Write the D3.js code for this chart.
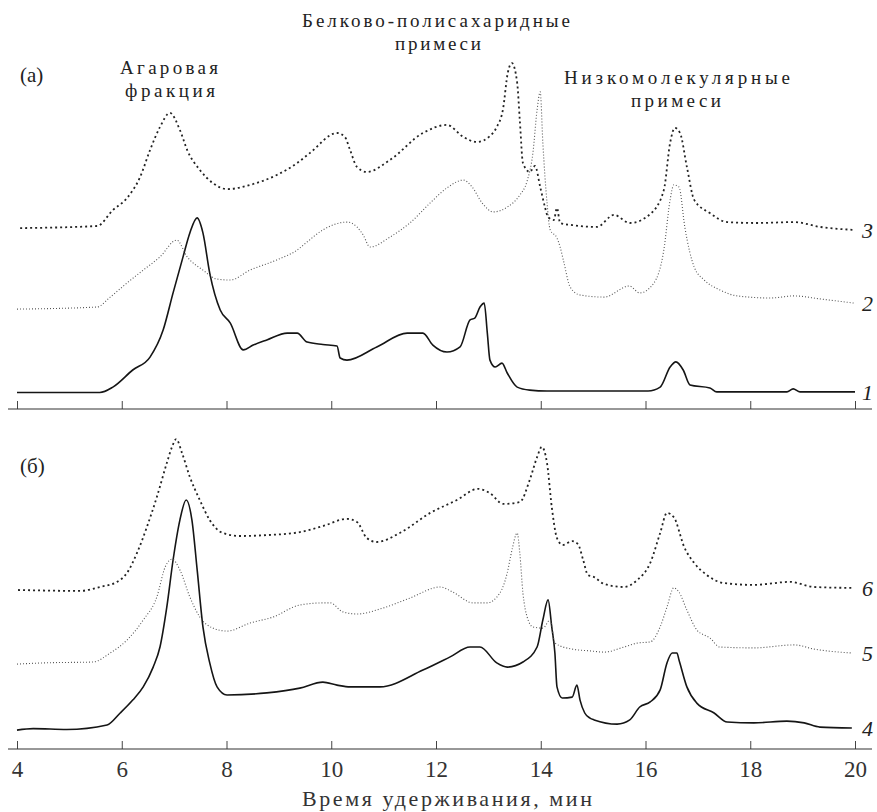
<!DOCTYPE html>
<html>
<head>
<meta charset="utf-8">
<script src="https://cdn.jsdelivr.net/npm/d3@7"></script>
<style>
  body { margin: 0; background: #fff; }
</style>
</head>
<body>
<div id="chart"></div>
<script>
// время удерживания (мин), сигнал в условных единицах
const curve1 = [[4.0,5.5],[5.58,5.5],[5.83,7.3],[6.21,13],[6.54,17.3],[6.79,26.3],[6.98,38.7],[7.17,50.7],[7.30,58.7],[7.44,63.7],[7.55,58.7],[7.68,45.3],[7.88,33],[8.07,28.7],[8.32,19.7],[8.51,21.3],[8.77,23],[9.16,25.3],[9.35,25.3],[9.54,22.3],[9.84,21.5],[10.11,21],[10.17,17],[10.30,16.3],[10.87,20.7],[11.45,25.3],[11.75,25.3],[11.94,21.3],[12.21,19],[12.46,20.7],[12.65,29.7],[12.74,30.3],[12.84,34],[12.92,35.3],[12.98,25.3],[13.03,16.3],[13.13,14],[13.26,15.3],[13.36,12],[13.55,7.3],[13.79,6.3],[14.12,6],[16.05,6],[16.28,7.3],[16.47,14],[16.58,15.7],[16.72,13],[16.85,8],[17.23,7],[17.36,5.7],[18.70,5.7],[18.82,6.7],[18.95,5.7],[20.0,5.7]];
const curve2 = [[4.0,33.3],[5.53,34],[5.78,37.3],[6.10,42],[6.41,46.3],[6.73,50.7],[7.05,56.3],[7.25,50.7],[7.55,46.3],[7.82,43.3],[8.07,43],[8.45,46.3],[8.96,49.7],[9.35,53],[9.54,55.7],[9.84,59.7],[10.30,62.3],[10.49,60.7],[10.61,58],[10.74,54],[11.12,57.3],[11.50,62],[11.89,68.7],[12.21,73.7],[12.52,76.3],[12.69,74],[12.88,68.7],[13.09,65.7],[13.36,67.3],[13.60,71.3],[13.74,76],[13.85,85.3],[13.93,99.7],[13.99,105.7],[14.04,88.7],[14.12,68.7],[14.18,59.7],[14.31,57],[14.37,54],[14.44,49],[14.56,40.7],[14.75,38],[15.21,37.3],[15.69,41],[15.89,38.7],[16.16,42],[16.35,53],[16.47,69.7],[16.54,74.7],[16.64,74],[16.75,60.7],[16.93,47.3],[17.12,43],[17.42,39.7],[17.75,37.7],[18.38,37],[18.84,37.7],[19.33,36.7],[19.98,35.3]];
const curve3 = [[4.06,60.3],[5.53,61],[5.83,66.3],[6.10,70.3],[6.35,77.3],[6.54,86.3],[6.73,94],[6.92,98.7],[7.11,93],[7.25,86.3],[7.49,79.7],[7.74,75.3],[8.01,73.3],[8.51,75],[8.96,78],[9.35,82],[9.59,85.3],[10.11,92],[10.26,90.7],[10.36,86.3],[10.49,80.7],[10.68,79],[11.12,83],[11.75,92],[12.21,94.7],[12.52,90.7],[12.78,89],[13.03,91],[13.16,94],[13.28,100],[13.37,112],[13.45,115.3],[13.55,108.7],[13.60,96.3],[13.66,82],[13.79,79],[13.89,81],[13.99,74],[14.08,67.3],[14.14,64],[14.25,63],[14.31,67],[14.37,62],[14.60,61.3],[15.07,60.7],[15.40,64.7],[15.70,62],[16.09,65],[16.35,73],[16.47,88.7],[16.56,93.7],[16.66,92],[16.79,80.7],[16.93,69.7],[17.23,65.3],[17.56,62.3],[18.13,62],[18.84,62.3],[19.33,60.7],[19.98,59.7]];
const curve4 = [[4.0,6.3],[4.31,6.8],[4.95,6.5],[5.72,8],[5.97,12],[6.21,16.3],[6.41,20.7],[6.60,27.3],[6.73,34],[6.86,47.3],[6.98,63],[7.11,76.3],[7.23,83],[7.34,76.3],[7.44,59.7],[7.55,40.7],[7.68,28.7],[7.82,20.7],[8.01,18],[8.77,18.7],[9.40,20.3],[9.84,22.3],[10.11,21.3],[10.36,20.7],[10.93,20.7],[11.75,26.3],[12.27,30.7],[12.65,34],[12.84,34],[13.16,28.7],[13.36,27.3],[13.66,29],[13.93,34],[14.04,43],[14.14,49.7],[14.21,40.7],[14.27,32],[14.31,20.7],[14.41,17],[14.60,17.3],[14.69,21.3],[14.75,16.3],[14.84,12],[14.94,10.3],[15.02,9.7],[15.46,8.3],[15.70,9.7],[15.89,14],[16.09,15.7],[16.28,19.7],[16.41,28.7],[16.51,32],[16.60,32],[16.64,29.7],[16.79,20.7],[16.98,15.3],[17.31,12],[17.56,9],[18.07,8.7],[18.70,9.3],[19.03,8.7],[19.33,7.3],[19.94,7]];
const curve5 = [[4.0,28.3],[4.5,28.7],[5.45,29],[5.78,32],[6.10,36.3],[6.41,43],[6.67,50.7],[6.83,60.7],[6.96,63.3],[7.11,59.7],[7.30,50.7],[7.49,44],[7.74,40.3],[8.01,39.3],[8.45,42],[8.89,44],[9.40,48],[9.84,48.7],[9.98,48.7],[10.22,45.7],[10.49,45],[10.99,47],[11.50,50.3],[12.08,54],[12.32,52.3],[12.71,48.7],[12.97,48.7],[13.22,52],[13.36,58.7],[13.45,66.3],[13.55,72],[13.60,65.3],[13.66,52],[13.74,44],[13.85,40.7],[14.04,40.3],[14.18,43],[14.27,35.3],[14.60,33.3],[14.94,32.7],[15.21,32.3],[15.59,34],[15.84,35.3],[16.09,35.7],[16.28,40.7],[16.41,47.3],[16.54,53.7],[16.64,52.3],[16.79,46.3],[16.98,39.7],[17.23,37],[17.42,34],[18.07,33.7],[18.84,34.7],[19.22,33.3],[19.94,32]];
const curve6 = [[4.02,53],[5.2,52.7],[5.58,54],[5.91,55.7],[6.10,58.7],[6.29,65.3],[6.48,74],[6.67,84],[6.86,95.3],[6.96,100.7],[7.04,103.3],[7.15,98.7],[7.30,90.7],[7.49,83],[7.68,76.3],[7.93,72],[8.26,71],[8.77,71.3],[9.40,72.3],[9.84,74.3],[10.30,76.7],[10.49,75.7],[10.68,70.3],[10.87,69],[11.31,72],[11.89,78.7],[12.40,83],[12.80,86.7],[13.03,85.3],[13.28,81.7],[13.60,82.3],[13.79,89.7],[13.93,97.3],[14.02,100.7],[14.12,95.3],[14.21,80.7],[14.31,70.3],[14.42,68],[14.60,69.3],[14.71,68.3],[14.81,63],[14.90,58],[15.02,57.3],[15.21,55],[15.59,54],[15.84,56.3],[16.09,62],[16.28,72],[16.41,78.7],[16.54,77.3],[16.74,67.3],[16.93,62],[17.17,58],[17.50,55.3],[18.07,54.7],[18.76,55.7],[19.22,54],[19.94,53.7]];

const xTicks = [4, 6, 8, 10, 12, 14, 16, 18, 20];
const xTitle = "Время удерживания, мин";

const width = 877;
const height = 812;
const serif = "'Liberation Serif', 'Times New Roman', Times, 'DejaVu Serif', serif";

const svg = d3.select("#chart")
  .append("svg")
  .attr("width", width)
  .attr("height", height);

const x = d3.scaleLinear().domain([4, 20]).range([17, 855]);
const yTop = d3.scaleLinear().domain([0, 100]).range([409, 109]);
const yBottom = d3.scaleLinear().domain([0, 100]).range([749, 449]);

// стили линий
const styles = {
  solid: { stroke: "#151515", width: 1.6, dash: null },
  coarse: { stroke: "#222", width: 1.8, dash: "2,3" },
  fine: { stroke: "#555", width: 1.1, dash: "1,2" }
};

function addText(sel) {
  return sel.append("text")
    .style("font-family", serif)
    .attr("fill", "#222");
}

function drawCurve(data, y, style, name) {
  const line = d3.line()
    .x((d) => x(d[0]))
    .y((d) => y(d[1]))
    .curve(d3.curveMonotoneX);
  const s = styles[style];
  svg.append("path")
    .datum(data)
    .attr("fill", "none")
    .attr("stroke", s.stroke)
    .attr("stroke-width", s.width)
    .attr("stroke-dasharray", s.dash)
    .attr("d", line);
  const last = data[data.length - 1];
  addText(svg)
    .attr("x", x(20) + 7)
    .attr("y", y(last[1]))
    .attr("dy", "0.35em")
    .attr("font-size", 22)
    .attr("font-style", "italic")
    .text(name);
}

function drawAxis(y, withLabels) {
  const g = svg.append("g")
    .attr("transform", `translate(0, ${y.range()[0]})`)
    .call(d3.axisBottom(x)
      .tickValues(xTicks)
      .tickSize(-8)
      .tickSizeOuter(0)
      .tickPadding(12)
      .tickFormat(withLabels ? d3.format("d") : () => ""));
  g.select(".domain").remove();
  g.append("line")
    .attr("x1", 8)
    .attr("x2", 872)
    .attr("stroke", "#333")
    .attr("stroke-width", 1.2);
  g.selectAll(".tick line").attr("stroke", "#444");
  g.selectAll(".tick text")
    .style("font-family", serif)
    .attr("font-size", 23)
    .attr("fill", "#333");
}

drawAxis(yTop, false);
drawAxis(yBottom, true);

drawCurve(curve1, yTop, "solid", "1");
drawCurve(curve2, yTop, "fine", "2");
drawCurve(curve3, yTop, "coarse", "3");
drawCurve(curve4, yBottom, "solid", "4");
drawCurve(curve5, yBottom, "fine", "5");
drawCurve(curve6, yBottom, "coarse", "6");

// подписи: каждая строка отдельным текстом, ширина по оригиналу
function label(s, cx, baseline, w) {
  addText(svg)
    .attr("x", cx - w / 2)
    .attr("y", baseline)
    .attr("font-size", 19)
    .attr("textLength", w)
    .attr("lengthAdjust", "spacing")
    .text(s);
}

label("Белково-полисахаридные", 436, 27, 268);
label("примеси", 438, 50, 86);
label("Агаровая", 169, 74, 98);
label("фракция", 170, 97, 90);
label("Низкомолекулярные", 677, 84, 226);
label("примеси", 676, 107, 90);

addText(svg).attr("x", 20).attr("y", 82).attr("font-size", 21).text("(а)");
addText(svg).attr("x", 20).attr("y", 473).attr("font-size", 21).text("(б)");

addText(svg)
  .attr("x", 302)
  .attr("y", 806)
  .attr("font-size", 22)
  .attr("textLength", 290)
  .attr("lengthAdjust", "spacing")
  .attr("fill", "#333")
  .text(xTitle);
</script>
</body>
</html>
